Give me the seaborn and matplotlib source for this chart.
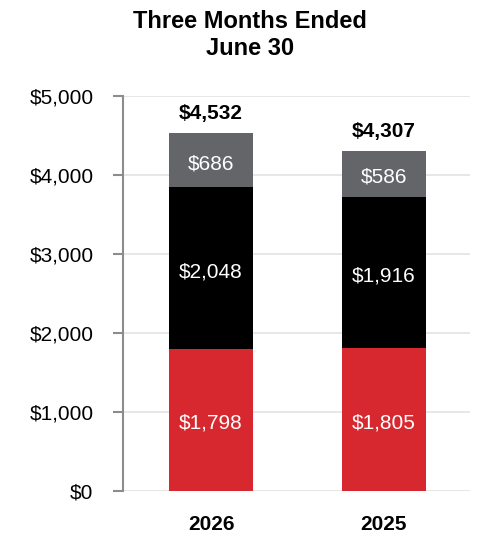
import matplotlib
matplotlib.use("Agg")
import matplotlib.pyplot as plt
import seaborn as sns
import pandas as pd
import numpy as np

years = ["2026", "2025"]
bottom_vals = [1798, 1805]
middle_vals = [2048, 1916]
top_vals = [686, 586]
totals = [4532, 4307]
yticks = [0, 1000, 2000, 3000, 4000, 5000]

sns.set_theme(style="white")
plt.rcParams['font.family'] = ['Liberation Sans', 'DejaVu Sans']
plt.rcParams['text.color'] = 'black'
plt.rcParams['xtick.color'] = 'black'
plt.rcParams['ytick.color'] = 'black'

fig = plt.figure(figsize=(5, 5.4), dpi=100)
ax = fig.add_axes([123/500, 1-491/540, (470-123)/500, (491-96)/540])

c_red, c_black, c_gray = "#D7282F", "#000000", "#646569"
df = pd.DataFrame({"year": years, "b": bottom_vals, "m": middle_vals, "t": top_vals})
df["bm"] = df["b"] + df["m"]
df["bmt"] = df["bm"] + df["t"]

w = 0.486
sns.barplot(data=df, x="year", y="bmt", color=c_gray, width=w, ax=ax, saturation=1, zorder=3)
sns.barplot(data=df, x="year", y="bm", color=c_black, width=w, ax=ax, saturation=1, zorder=3)
sns.barplot(data=df, x="year", y="b", color=c_red, width=w, ax=ax, saturation=1, zorder=3)
for p in ax.patches:
    p.set_linewidth(0)

def seg_label(x, y, val):
    ax.annotate(f"${val:,}", xy=(x, y), xytext=(0, -2.5), textcoords="offset points",
                ha="center", va="center", color="white", fontsize=15, zorder=4)

for i in range(len(years)):
    b, m, t = bottom_vals[i], middle_vals[i], top_vals[i]
    seg_label(i, b/2, b)
    seg_label(i, b + m/2, m)
    seg_label(i, b + m + t/2, t)
    ax.annotate(f"${totals[i]:,}", xy=(i, totals[i]), xytext=(0, 10), textcoords="offset points",
                ha="center", va="baseline", color="black", fontsize=15, fontweight="bold", zorder=4)

ax.set_ylim(0, 5000)
ax.set_xlim(-0.51, 1.5)
ax.set_yticks(yticks)
ax.set_yticklabels([f"${v:,}" for v in yticks], fontsize=15)
ax.set_xticks(range(len(years)))
ax.set_xticklabels(years, fontsize=15, fontweight="bold")
ax.set_xlabel("")
ax.set_ylabel("")
ax.yaxis.grid(True, color="#e3e3e3", linewidth=1.2, zorder=0)
ax.set_axisbelow(True)
for s in ["top", "right", "bottom"]:
    ax.spines[s].set_visible(False)
ax.spines["left"].set_color("#8c8c8c")
ax.spines["left"].set_linewidth(1.5)
ax.tick_params(axis="y", which="both", left=True, length=7.2, width=1.5, color="#8c8c8c",
               labelcolor="black", pad=14)
ax.tick_params(axis="x", bottom=False, pad=11, labelcolor="black")

fig.text(250/500, 1-35/540, "Three Months Ended\nJune 30", ha="center", va="center",
         fontsize=17, fontweight="bold", linespacing=1.2, color="black")

fig.savefig("out.png", dpi=100)
